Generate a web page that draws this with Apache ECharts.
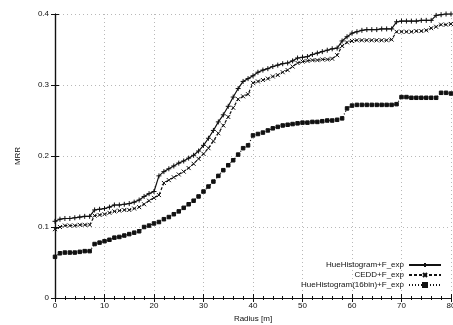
<!DOCTYPE html>
<html>
<head>
<meta charset="utf-8">
<script src="https://cdn.jsdelivr.net/npm/echarts@6/dist/echarts.min.js"></script>
<style>
    html, body { margin: 0; padding: 0; background: #fff; }
    #chart { width: 453px; height: 325px; }
</style>
</head>
<body>
<div id="chart"></div>
<script>
    // radius 0..80 m, one value per metre
    var radius = []
    for (var i = 0; i <= 80; i++) radius.push(i)

    var hueNames = ['HueHistogram+F_exp', 'CEDD+F_exp', 'HueHistogram(16bin)+F_exp']

    var hueMRR = [
        0.108, 0.111, 0.112, 0.112, 0.113, 0.114, 0.115, 0.115, 0.124, 0.125,
        0.126, 0.128, 0.131, 0.131, 0.132, 0.133, 0.135, 0.138, 0.143, 0.147,
        0.150, 0.172, 0.178, 0.182, 0.186, 0.190, 0.193, 0.197, 0.201, 0.207,
        0.215, 0.225, 0.236, 0.248, 0.258, 0.270, 0.283, 0.295, 0.305, 0.309,
        0.313, 0.318, 0.321, 0.323, 0.326, 0.328, 0.330, 0.331, 0.334, 0.338,
        0.339, 0.340, 0.343, 0.345, 0.347, 0.349, 0.351, 0.352, 0.362, 0.368,
        0.373, 0.375, 0.377, 0.378, 0.378, 0.378, 0.379, 0.379, 0.379, 0.389,
        0.390, 0.390, 0.390, 0.390, 0.391, 0.391, 0.391, 0.398, 0.399, 0.400,
        0.400
    ]
    var ceddMRR = [
        0.097, 0.100, 0.102, 0.102, 0.102, 0.103, 0.103, 0.103, 0.116, 0.117,
        0.118, 0.120, 0.122, 0.123, 0.124, 0.124, 0.126, 0.128, 0.132, 0.137,
        0.141, 0.145, 0.162, 0.166, 0.170, 0.174, 0.178, 0.183, 0.189, 0.196,
        0.203, 0.211, 0.221, 0.232, 0.243, 0.255, 0.268, 0.280, 0.284, 0.287,
        0.303, 0.305, 0.307, 0.309, 0.312, 0.314, 0.318, 0.321, 0.326, 0.331,
        0.333, 0.334, 0.335, 0.335, 0.336, 0.336, 0.337, 0.342, 0.355, 0.360,
        0.362, 0.363, 0.363, 0.363, 0.363, 0.363, 0.363, 0.363, 0.364, 0.375,
        0.375, 0.375, 0.375, 0.376, 0.376, 0.377, 0.380, 0.382, 0.385, 0.385,
        0.386
    ]
    var hue16MRR = [
        0.058, 0.063, 0.064, 0.064, 0.064, 0.065, 0.066, 0.066, 0.076, 0.078,
        0.080, 0.082, 0.085, 0.086, 0.088, 0.090, 0.092, 0.094, 0.100, 0.102,
        0.105, 0.107, 0.111, 0.114, 0.118, 0.122, 0.127, 0.132, 0.137, 0.143,
        0.150, 0.157, 0.164, 0.172, 0.180, 0.187, 0.194, 0.202, 0.211, 0.215,
        0.229, 0.231, 0.233, 0.236, 0.239, 0.241, 0.243, 0.244, 0.245, 0.246,
        0.247, 0.247, 0.248, 0.248, 0.249, 0.250, 0.250, 0.251, 0.253, 0.267,
        0.271, 0.272, 0.272, 0.272, 0.272, 0.272, 0.272, 0.272, 0.272, 0.273,
        0.283, 0.283, 0.282, 0.282, 0.282, 0.282, 0.282, 0.282, 0.289, 0.289,
        0.288
    ]

    var xTicks = { min: 0, max: 80, interval: 10 }
    var yTicks = { min: 0, max: 0.4, interval: 0.1 }

    function pairs(values) {
        return radius.map(function (r, i) { return [r, values[i]] })
    }

    var font = 'Liberation Sans, Arial, sans-serif'
    var ink = '#111'

    function lineSeries(name, values, symbol, size, dash) {
        return {
            name: name,
            type: 'line',
            data: pairs(values),
            symbol: symbol,
            symbolSize: size,
            showAllSymbol: true,
            lineStyle: { color: ink, width: 1.2, type: dash },
            itemStyle: { color: ink, borderColor: ink, borderWidth: 1 },
            emphasis: { disabled: true },
            animation: false,
        }
    }

    var plus = 'path://M0,5L10,5M5,0L5,10'
    var cross = 'path://M0,0L10,10M10,0L0,10'

    var axisLine = { show: true, lineStyle: { color: ink, width: 1.2 } }
    var tickIn = { show: true, inside: true, length: 4, lineStyle: { color: ink } }
    var minorIn = { show: true, splitNumber: 5, length: 2, lineStyle: { color: ink } }
    var grid = { show: true, lineStyle: { color: '#b8b8b8', type: [1, 3], width: 1 } }

    var option = {
        backgroundColor: '#fff',
        animation: false,
        grid: {
            left: 55, right: 2, top: 14, bottom: 27,
            containLabel: false,
            outerBoundsMode: 'none',
        },
        legend: {
            orient: 'vertical',
            right: 6,
            top: 256,
            align: 'right',
            itemWidth: 32,
            itemHeight: 5,
            itemGap: 2,
            data: hueNames,
            textStyle: { fontSize: 8, color: ink, fontFamily: font },
        },
        xAxis: [
            {
                type: 'value',
                min: xTicks.min, max: xTicks.max, interval: xTicks.interval,
                name: 'Radius [m]',
                nameLocation: 'middle',
                nameGap: 15,
                nameTextStyle: { fontSize: 8, color: ink, fontFamily: font },
                axisLine: axisLine,
                axisTick: tickIn,
                minorTick: minorIn,
                splitLine: grid,
                axisLabel: { fontSize: 8, color: ink, fontFamily: font, margin: 4, showMaxLabel: true },
            },
            {
                type: 'value',
                position: 'top',
                min: xTicks.min, max: xTicks.max, interval: xTicks.interval,
                axisLine: axisLine,
                axisTick: tickIn,
                minorTick: minorIn,
                splitLine: { show: false },
                axisLabel: { show: false },
            },
        ],
        yAxis: [
            {
                type: 'value',
                min: yTicks.min, max: yTicks.max, interval: yTicks.interval,
                name: 'MRR',
                nameLocation: 'middle',
                nameGap: 33,
                nameTextStyle: { fontSize: 8, color: ink, fontFamily: font },
                axisLine: axisLine,
                axisTick: tickIn,
                splitLine: grid,
                axisLabel: { fontSize: 8, color: ink, fontFamily: font, margin: 6 },
            },
            {
                type: 'value',
                position: 'right',
                min: yTicks.min, max: yTicks.max, interval: yTicks.interval,
                axisLine: axisLine,
                axisTick: tickIn,
                splitLine: { show: false },
                axisLabel: { show: false },
            },
        ],
        series: [
            lineSeries(hueNames[0], hueMRR, plus, 5, 'solid'),
            lineSeries(hueNames[1], ceddMRR, cross, 4, [3, 2]),
            lineSeries(hueNames[2], hue16MRR, 'rect', 3.5, [1, 2]),
        ],
    }

    var myChart = echarts.init(document.getElementById('chart'), null, { renderer: 'canvas' })
    myChart.setOption(option)
</script>
</body>
</html>
